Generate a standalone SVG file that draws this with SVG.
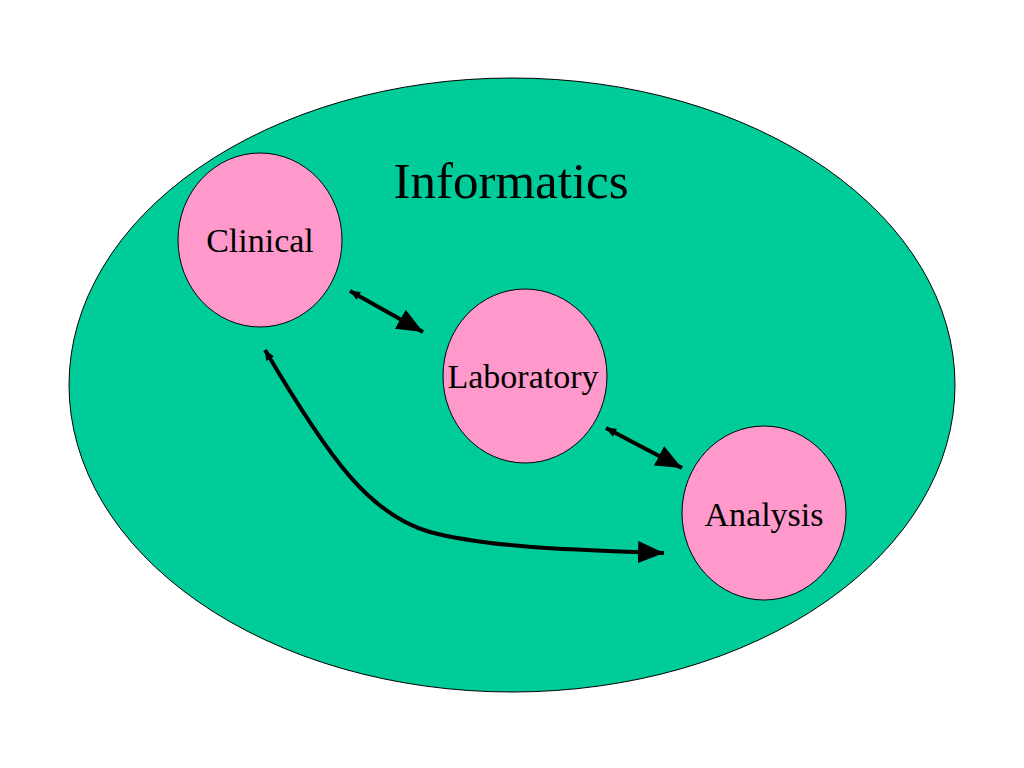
<svg xmlns="http://www.w3.org/2000/svg" width="1024" height="768" viewBox="0 0 1024 768">
<style>
.node{fill:#FF99CC;stroke:#000;stroke-width:1}
.lbl{font-family:"Liberation Serif","Times New Roman",serif;font-size:34px;text-anchor:middle;fill:#000}
.conn{fill:none;stroke:#000;stroke-width:4}
</style>
<defs>
<marker id="big" markerUnits="userSpaceOnUse" markerWidth="30" markerHeight="24" refX="26" refY="11" orient="auto">
<path d="M0,0 L26,11 L0,22 Z" fill="#000"/>
</marker>
<marker id="small" markerUnits="userSpaceOnUse" markerWidth="12" markerHeight="10" refX="0" refY="4.5" orient="auto">
<path d="M10,0 L0,4.5 L10,9 Z" fill="#000"/>
</marker>
</defs>
<rect width="1024" height="768" fill="#fff"/>
<g id="informatics">
<ellipse cx="512" cy="385" rx="443" ry="307" fill="#00CC99" stroke="#000" stroke-width="1"/>
<text x="511" y="198" font-family="'Liberation Serif','Times New Roman',serif" font-size="51" text-anchor="middle">Informatics</text>
</g>
<g id="clinical">
<ellipse class="node" cx="260" cy="240" rx="82" ry="87"/>
<text class="lbl" x="260" y="252">Clinical</text>
</g>
<g id="laboratory">
<ellipse class="node" cx="525" cy="376" rx="82" ry="87"/>
<text class="lbl" x="523" y="388">Laboratory</text>
</g>
<g id="analysis">
<ellipse class="node" cx="764" cy="513" rx="82" ry="87"/>
<text class="lbl" x="764" y="526">Analysis</text>
</g>
<g id="connectors">
<line class="conn" x1="350" y1="291" x2="423" y2="332" marker-start="url(#small)" marker-end="url(#big)"/>
<line class="conn" x1="606" y1="428" x2="682" y2="468" marker-start="url(#small)" marker-end="url(#big)"/>
<path class="conn" d="M265,350 C330,460 370,515 430,532 C490,548 580,550 664,553" marker-start="url(#small)" marker-end="url(#big)"/>
</g>
</svg>
